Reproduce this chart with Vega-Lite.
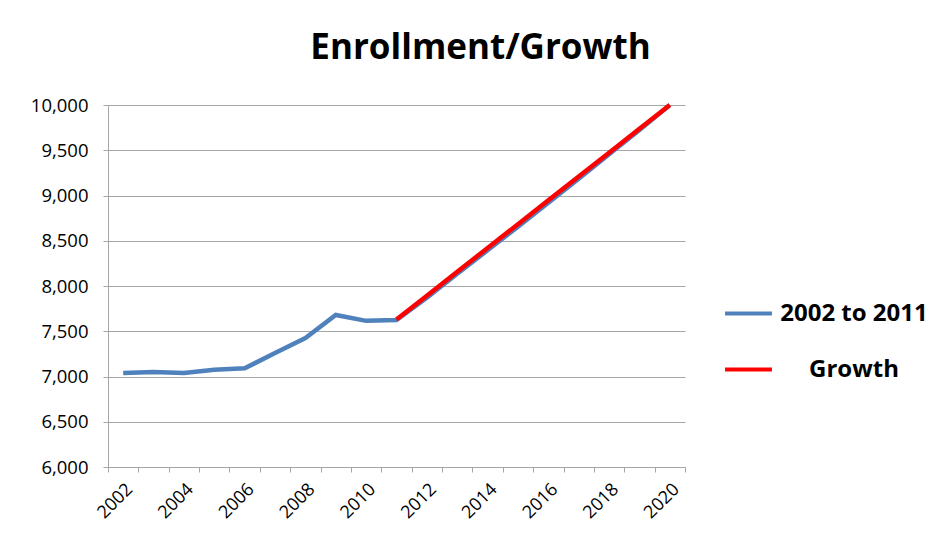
{
  "$schema": "https://vega.github.io/schema/vega-lite/v6.json",
  "autosize": "none",
  "width": 577,
  "height": 362,
  "padding": {"left": 108, "top": 105, "right": 251, "bottom": 76},
  "background": "white",
  "title": {
    "text": "Enrollment/Growth",
    "font": "Open Sans",
    "fontSize": 35,
    "fontWeight": "bold",
    "color": "#000000",
    "anchor": "middle",
    "dx": 84,
    "offset": 30
  },
  "config": {
    "view": {"stroke": null},
    "font": "Open Sans"
  },
  "data": {
    "values": [
      {"year": 2002, "value": 7040, "series": "2002 to 2011"},
      {"year": 2003, "value": 7050, "series": "2002 to 2011"},
      {"year": 2004, "value": 7040, "series": "2002 to 2011"},
      {"year": 2005, "value": 7075, "series": "2002 to 2011"},
      {"year": 2006, "value": 7090, "series": "2002 to 2011"},
      {"year": 2007, "value": 7260, "series": "2002 to 2011"},
      {"year": 2008, "value": 7425, "series": "2002 to 2011"},
      {"year": 2009, "value": 7680, "series": "2002 to 2011"},
      {"year": 2010, "value": 7615, "series": "2002 to 2011"},
      {"year": 2011, "value": 7625, "series": "2002 to 2011"},
      {"year": 2012, "value": 7870, "series": "2002 to 2011"},
      {"year": 2013, "value": 8135, "series": "2002 to 2011"},
      {"year": 2014, "value": 8395, "series": "2002 to 2011"},
      {"year": 2015, "value": 8655, "series": "2002 to 2011"},
      {"year": 2016, "value": 8920, "series": "2002 to 2011"},
      {"year": 2017, "value": 9185, "series": "2002 to 2011"},
      {"year": 2018, "value": 9455, "series": "2002 to 2011"},
      {"year": 2019, "value": 9725, "series": "2002 to 2011"},
      {"year": 2020, "value": 10000, "series": "2002 to 2011"},
      {"year": 2011, "value": 7630, "series": "Growth"},
      {"year": 2012, "value": 7893, "series": "Growth"},
      {"year": 2013, "value": 8157, "series": "Growth"},
      {"year": 2014, "value": 8420, "series": "Growth"},
      {"year": 2015, "value": 8683, "series": "Growth"},
      {"year": 2016, "value": 8947, "series": "Growth"},
      {"year": 2017, "value": 9210, "series": "Growth"},
      {"year": 2018, "value": 9473, "series": "Growth"},
      {"year": 2019, "value": 9737, "series": "Growth"},
      {"year": 2020, "value": 10000, "series": "Growth"}
    ]
  },
  "mark": {"type": "line", "strokeWidth": 4.5, "strokeCap": "butt"},
  "encoding": {
    "x": {
      "field": "year",
      "type": "ordinal",
      "scale": {"type": "band", "paddingInner": 0, "paddingOuter": 0},
      "axis": {
        "title": null,
        "labelAngle": -45,
        "labelFontSize": 18,
        "labelColor": "#000000",
        "labelExpr": "datum.value % 2 == 0 ? datum.label : ''",
        "labelPadding": 8,
        "tickBand": "extent",
        "tickSize": 5,
        "tickColor": "#a6a6a6",
        "domainColor": "#a6a6a6",
        "grid": false
      }
    },
    "y": {
      "field": "value",
      "type": "quantitative",
      "scale": {"domain": [6000, 10000], "nice": false, "zero": false},
      "axis": {
        "title": null,
        "values": [6000, 6500, 7000, 7500, 8000, 8500, 9000, 9500, 10000],
        "format": ",d",
        "labelFontSize": 18.5,
        "labelColor": "#000000",
        "labelPadding": 15,
        "tickSize": 5,
        "tickColor": "#a6a6a6",
        "domainColor": "#a6a6a6",
        "gridColor": "#a6a6a6",
        "gridWidth": 1
      }
    },
    "color": {
      "field": "series",
      "type": "nominal",
      "scale": {"domain": ["2002 to 2011", "Growth"], "range": ["#4f81bd", "#ff0000"]},
      "legend": {
        "title": null,
        "orient": "none",
        "legendX": 615,
        "legendY": 183,
        "symbolType": "stroke",
        "symbolSize": 2200,
        "symbolStrokeWidth": 4,
        "labelFont": "Open Sans",
        "labelFontSize": 24,
        "labelFontWeight": "bold",
        "labelColor": "#000000",
        "labelAlign": "center",
        "labelOffset": 80,
        "labelLimit": 300,
        "rowPadding": 18
      }
    }
  }
}
